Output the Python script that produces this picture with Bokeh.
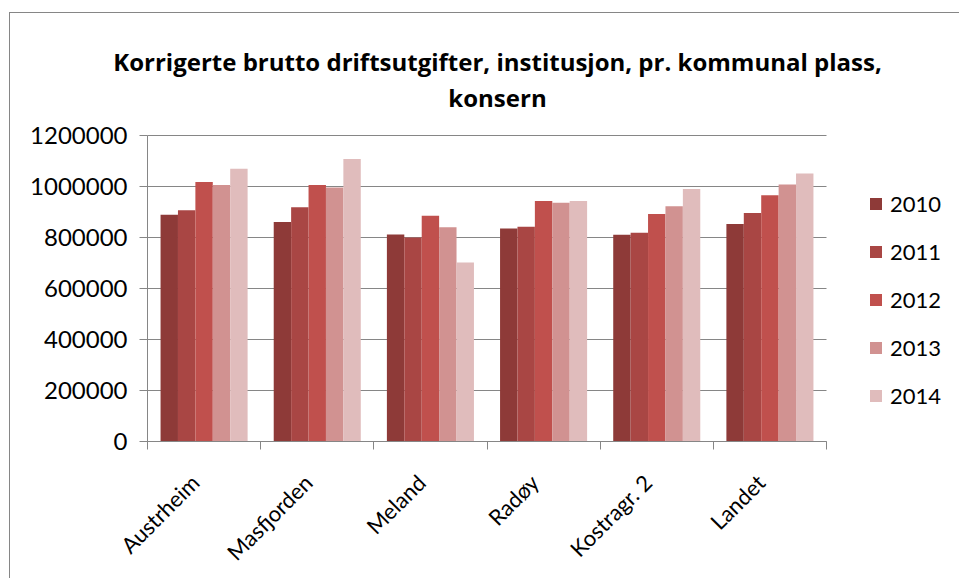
from bokeh.plotting import figure
from bokeh.models import Range1d, FixedTicker, Legend, LegendItem, Label, Grid
from bokeh.embed import file_html
from bokeh.resources import INLINE
import math

categories = ["Austrheim", "Masfjorden", "Meland", "Radøy", "Kostragr. 2", "Landet"]
years = ["2010", "2011", "2012", "2013", "2014"]
v2010 = [889000, 861000, 812000, 835000, 811000, 853000]
v2011 = [907000, 919000, 800000, 842000, 819000, 896000]
v2012 = [1018000, 1006000, 885000, 943000, 892000, 966000]
v2013 = [1006000, 996000, 840000, 936000, 923000, 1008000]
v2014 = [1070000, 1108000, 702000, 943000, 990000, 1051000]
series = [v2010, v2011, v2012, v2013, v2014]
colors = ["#8E3A38", "#A94644", "#C0504D", "#D19291", "#E0BCBC"]
yticks = [0, 200000, 400000, 600000, 800000, 1000000, 1200000]
y_max = 1200000
title_line1 = "Korrigerte brutto driftsutgifter, institusjon, pr. kommunal plass,"
title_line2 = "konsern"

FONT = "Lato"
TFONT = "Open Sans"
GRAY = "#868686"

W, H = 950, 566
BL, BR, BT, BB = 2, 4, 4, 4
AXIS_X = 137            # y-axis position from the figure's left edge (px)
AXIS_Y = 134            # x-axis position above the frame's bottom edge (px)
FRAME_W = W - BL - BR
FRAME_H = H - BT - BB
PLOT_W, PLOT_H = 679, 306  # pixel size of the value area inside the frame
n = len(categories)
x_start = -(AXIS_X - BL) * n / PLOT_W
x_end = x_start + FRAME_W * n / PLOT_W
y_start = -AXIS_Y * y_max / PLOT_H
y_end = y_start + FRAME_H * y_max / PLOT_H

p = figure(width=W, height=H, output_backend="svg", toolbar_location=None,
           title_location=None,
           x_range=Range1d(x_start, x_end), y_range=Range1d(y_start, y_end),
           min_border_left=BL, min_border_right=BR, min_border_top=BT, min_border_bottom=BB)
p.styles = {"border-left": "1px solid #868686", "border-top": "1px solid #868686",
            "margin-top": "12px", "margin-left": "9px"}
p.outline_line_color = None
p.background_fill_color = "white"

bw = 1.0 / 6.5
items = []
for i, (yr, vals, c) in enumerate(zip(years, series, colors)):
    xs = [k + 0.5 + (i - 2) * bw for k in range(n)]
    r = p.vbar(x=xs, top=vals, bottom=0, width=bw, fill_color=c, line_color=None)
    items.append(LegendItem(label=yr, renderers=[r]))

# title: two centred lines (screen units from frame bottom-left)
for txt, ybase in [(title_line1, AXIS_Y + 380), (title_line2, AXIS_Y + 344)]:
    p.add_layout(Label(x=485, y=ybase, x_units="screen", y_units="screen", text=txt,
                       text_align="center", text_baseline="alphabetic",
                       text_font=TFONT, text_font_style="bold", text_font_size="24px",
                       text_color="black"))

# y axis, fixed at x = 0 inside the frame
p.yaxis.fixed_location = 0
p.yaxis.ticker = FixedTicker(ticks=yticks, minor_ticks=[])
p.yaxis.bounds = (0, y_max)
p.yaxis.formatter.use_scientific = False
p.yaxis.major_label_text_font = FONT
p.yaxis.major_label_text_font_size = "24px"
p.yaxis.major_label_text_color = "black"
p.yaxis.axis_line_color = GRAY
p.yaxis.major_tick_line_color = GRAY
p.yaxis.major_tick_out = 8
p.yaxis.major_tick_in = 0
p.yaxis.major_label_standoff = 12
p.xgrid.grid_line_color = None
if "cross_bounds" in Grid.properties():
    p.ygrid.ticker = FixedTicker(ticks=yticks)
    p.ygrid.grid_line_color = GRAY
    p.ygrid.cross_bounds = (0, n)
else:
    p.ygrid.grid_line_color = None
    p.segment(x0=[0] * len(yticks), x1=[n] * len(yticks), y0=yticks, y1=yticks,
              line_color=GRAY, line_width=1, level="underlay")

# x axis, fixed at y = 0: labels at category centres, ticks at boundaries
label_pos = [k + 0.5 - 0.08 for k in range(n)]
p.xaxis.fixed_location = 0
p.xaxis.ticker = FixedTicker(ticks=label_pos, minor_ticks=list(range(n + 1)))
p.xaxis.bounds = (0, n)
p.xaxis.major_label_overrides = {c: name for c, name in zip(label_pos, categories)}
p.xaxis.major_tick_line_color = None
p.xaxis.minor_tick_line_color = GRAY
p.xaxis.minor_tick_out = 8
p.xaxis.minor_tick_in = 0
p.xaxis.axis_line_color = GRAY
p.xaxis.major_label_orientation = math.pi / 4
p.xaxis.major_label_text_font = FONT
p.xaxis.major_label_text_font_size = "22px"
p.xaxis.major_label_text_color = "black"
p.xaxis.major_label_standoff = 29

legend = Legend(items=items, location=(856, AXIS_Y + 32), border_line_color=None,
                background_fill_alpha=0, padding=0, margin=0,
                glyph_width=15, glyph_height=15, label_standoff=7,
                label_height=24, spacing=21,
                label_text_font=FONT, label_text_font_size="22px", label_text_color="black")
p.add_layout(legend, "center")

open("out.html", "w").write(file_html(p, INLINE))
